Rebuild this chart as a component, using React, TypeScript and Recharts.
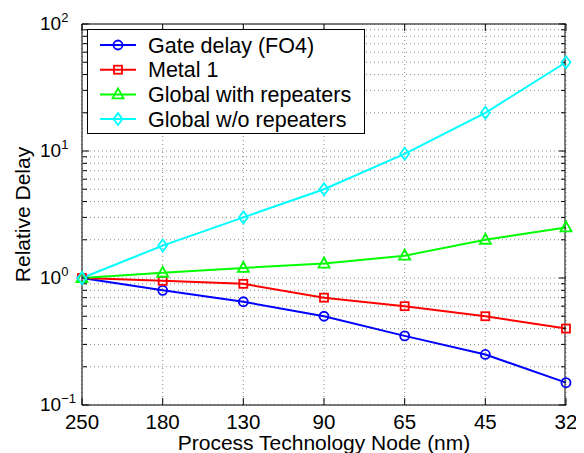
import { LineChart, Line, XAxis, YAxis, CartesianGrid } from "recharts";

const NODES = ["250", "180", "130", "90", "65", "45", "32"];

const GATE_DELAY = [1, 0.8, 0.65, 0.5, 0.35, 0.25, 0.15];
const METAL_1 = [1, 0.95, 0.9, 0.7, 0.6, 0.5, 0.4];
const GLOBAL_REP = [1, 1.1, 1.2, 1.3, 1.5, 2.0, 2.5];
const GLOBAL_NO_REP = [1, 1.8, 3.0, 5.0, 9.5, 20, 50];

const DECADE_TICKS = [0.1, 1, 10, 100];
const DECADE_EXP = ["\u22121", "0", "1", "2"];
const MINOR_TICKS = [
  0.2, 0.3, 0.4, 0.5, 0.6, 0.7, 0.8, 0.9,
  2, 3, 4, 5, 6, 7, 8, 9,
  20, 30, 40, 50, 60, 70, 80, 90,
];
const ALL_TICKS = [...DECADE_TICKS, ...MINOR_TICKS].sort((a, b) => a - b);

const SERIES = [
  { key: "gate", name: "Gate delay (FO4)", color: "#0000ff", shape: "circle", values: GATE_DELAY },
  { key: "metal", name: "Metal 1", color: "#ff0000", shape: "square", values: METAL_1 },
  { key: "rep", name: "Global with repeaters", color: "#00ff00", shape: "triangle", values: GLOBAL_REP },
  { key: "norep", name: "Global w/o repeaters", color: "#00ffff", shape: "diamond", values: GLOBAL_NO_REP },
];

const data = NODES.map((node, i) => {
  const row: Record<string, string | number> = { node };
  SERIES.forEach((s) => (row[s.key] = s.values[i]));
  return row;
});

const FONT = "'Liberation Sans', Arial, Helvetica, sans-serif";

function Marker({ cx, cy, shape, color }: any) {
  if (cx == null || cy == null) return <g />;
  const common = { fill: "none", stroke: color, strokeWidth: 1.8 };
  if (shape === "circle") return <circle cx={cx} cy={cy} r={4.5} {...common} />;
  if (shape === "square") return <rect x={cx - 4} y={cy - 4} width={8} height={8} {...common} />;
  if (shape === "triangle")
    return <polygon points={`${cx},${cy - 6} ${cx + 5.5},${cy + 4} ${cx - 5.5},${cy + 4}`} {...common} />;
  return <polygon points={`${cx},${cy - 6} ${cx + 4.5},${cy} ${cx},${cy + 6} ${cx - 4.5},${cy}`} {...common} />;
}

const YTick = ({ x, y, payload }: any) => {
  const idx = DECADE_TICKS.indexOf(payload.value);
  if (idx < 0) return <g />;
  return (
    <text x={x - 42} y={y + 6} fontFamily={FONT} fontSize={19} fill="#000" textAnchor="start">
      10
      <tspan fontSize={13} dy={-8}>
        {DECADE_EXP[idx]}
      </tspan>
    </text>
  );
};

const XTick = ({ x, y, payload }: any) => (
  <text x={x} y={y + 24} fontFamily={FONT} fontSize={20.5} fill="#000" textAnchor="middle">
    {payload.value}
  </text>
);

const Blank = () => <g />;

const Legend = () => (
  <svg
    width={278}
    height={105}
    style={{ position: "absolute", left: 79, top: 21 }}
  >
    <rect x={0.5} y={0.5} width={277} height={104} fill="#fff" stroke="#000" strokeWidth={1} />
    {SERIES.map((s, i) => {
      const cy = 16 + i * 24.7;
      return (
        <g key={s.key}>
          <line x1={13} x2={49} y1={cy} y2={cy} stroke={s.color} strokeWidth={2} />
          <Marker cx={31} cy={cy} shape={s.shape} color={s.color} />
          <text x={61} y={cy + 7.5} fontFamily={FONT} fontSize={21.5} fill="#000">
            {s.name}
          </text>
        </g>
      );
    })}
  </svg>
);

const axisStroke = { stroke: "#000", strokeWidth: 1 };

export default function App() {
  return (
    <div style={{ position: "relative", width: 576, height: 445 }}>
      <LineChart
        width={576}
        height={445}
        data={data}
        margin={{ top: 16, right: 18, left: 0, bottom: 0 }}
      >
        <CartesianGrid
          xAxisId="main"
          yAxisId="main"
          stroke="#8a8a8a"
          strokeDasharray="1 3"
          strokeWidth={1}
        />
        <XAxis
          xAxisId="main"
          dataKey="node"
          type="category"
          height={48}
          interval={0}
          tickSize={0}
          tickMargin={0}
          tick={<XTick />}
          axisLine={axisStroke}
          label={{
            content: (p: any) => {
              const vb = p.viewBox || { x: 74, y: 397, width: 484 };
              return (
                <text x={vb.x + vb.width / 2} y={vb.y + 45} fontFamily={FONT} fontSize={21} textAnchor="middle" fill="#000">
                  Process Technology Node (nm)
                </text>
              );
            },
          }}
        />
        <XAxis xAxisId="bottomTicks" dataKey="node" type="category" orientation="bottom" mirror height={1} interval={0} tickSize={7} tick={<Blank />} tickLine={axisStroke} axisLine={false} />
        <XAxis xAxisId="top" dataKey="node" type="category" orientation="top" mirror height={1} interval={0} tickSize={7} tick={<Blank />} tickLine={axisStroke} axisLine={axisStroke} />
        <YAxis
          yAxisId="main"
          scale="log"
          type="number"
          domain={[0.1, 100]}
          ticks={ALL_TICKS}
          interval={0}
          allowDataOverflow
          width={74}
          tickSize={0}
          tickMargin={0}
          tickLine={false}
          tick={<YTick />}
          axisLine={axisStroke}
          label={{
            content: (p: any) => {
              const vb = p.viewBox || { x: 0, y: 16, height: 381 };
              const cx = 22;
              const cy = vb.y + vb.height / 2;
              return (
                <text x={cx} y={cy} transform={`rotate(-90 ${cx} ${cy})`} fontFamily={FONT} fontSize={21} textAnchor="middle" fill="#000">
                  Relative Delay
                </text>
              );
            },
          }}
        />
        <YAxis yAxisId="lMinor" scale="log" type="number" domain={[0.1, 100]} ticks={MINOR_TICKS} interval={0} allowDataOverflow orientation="left" mirror width={1} tickSize={4} tick={<Blank />} tickLine={axisStroke} axisLine={false} />
        <YAxis yAxisId="lMajor" scale="log" type="number" domain={[0.1, 100]} ticks={DECADE_TICKS} interval={0} allowDataOverflow orientation="left" mirror width={1} tickSize={7} tick={<Blank />} tickLine={axisStroke} axisLine={false} />
        <YAxis yAxisId="rMinor" scale="log" type="number" domain={[0.1, 100]} ticks={MINOR_TICKS} interval={0} allowDataOverflow orientation="right" mirror width={1} tickSize={4} tick={<Blank />} tickLine={axisStroke} axisLine={axisStroke} />
        <YAxis yAxisId="rMajor" scale="log" type="number" domain={[0.1, 100]} ticks={DECADE_TICKS} interval={0} allowDataOverflow orientation="right" mirror width={1} tickSize={7} tick={<Blank />} tickLine={axisStroke} axisLine={false} />
        {SERIES.map((s) => (
          <Line
            key={s.key}
            xAxisId="main"
            yAxisId="main"
            dataKey={s.key}
            name={s.name}
            stroke={s.color}
            strokeWidth={2}
            isAnimationActive={false}
            dot={(p: any) => <Marker key={`${s.key}-${p.index}`} cx={p.cx} cy={p.cy} shape={s.shape} color={s.color} />}
            activeDot={false}
          />
        ))}
      </LineChart>
      <Legend />
    </div>
  );
}
